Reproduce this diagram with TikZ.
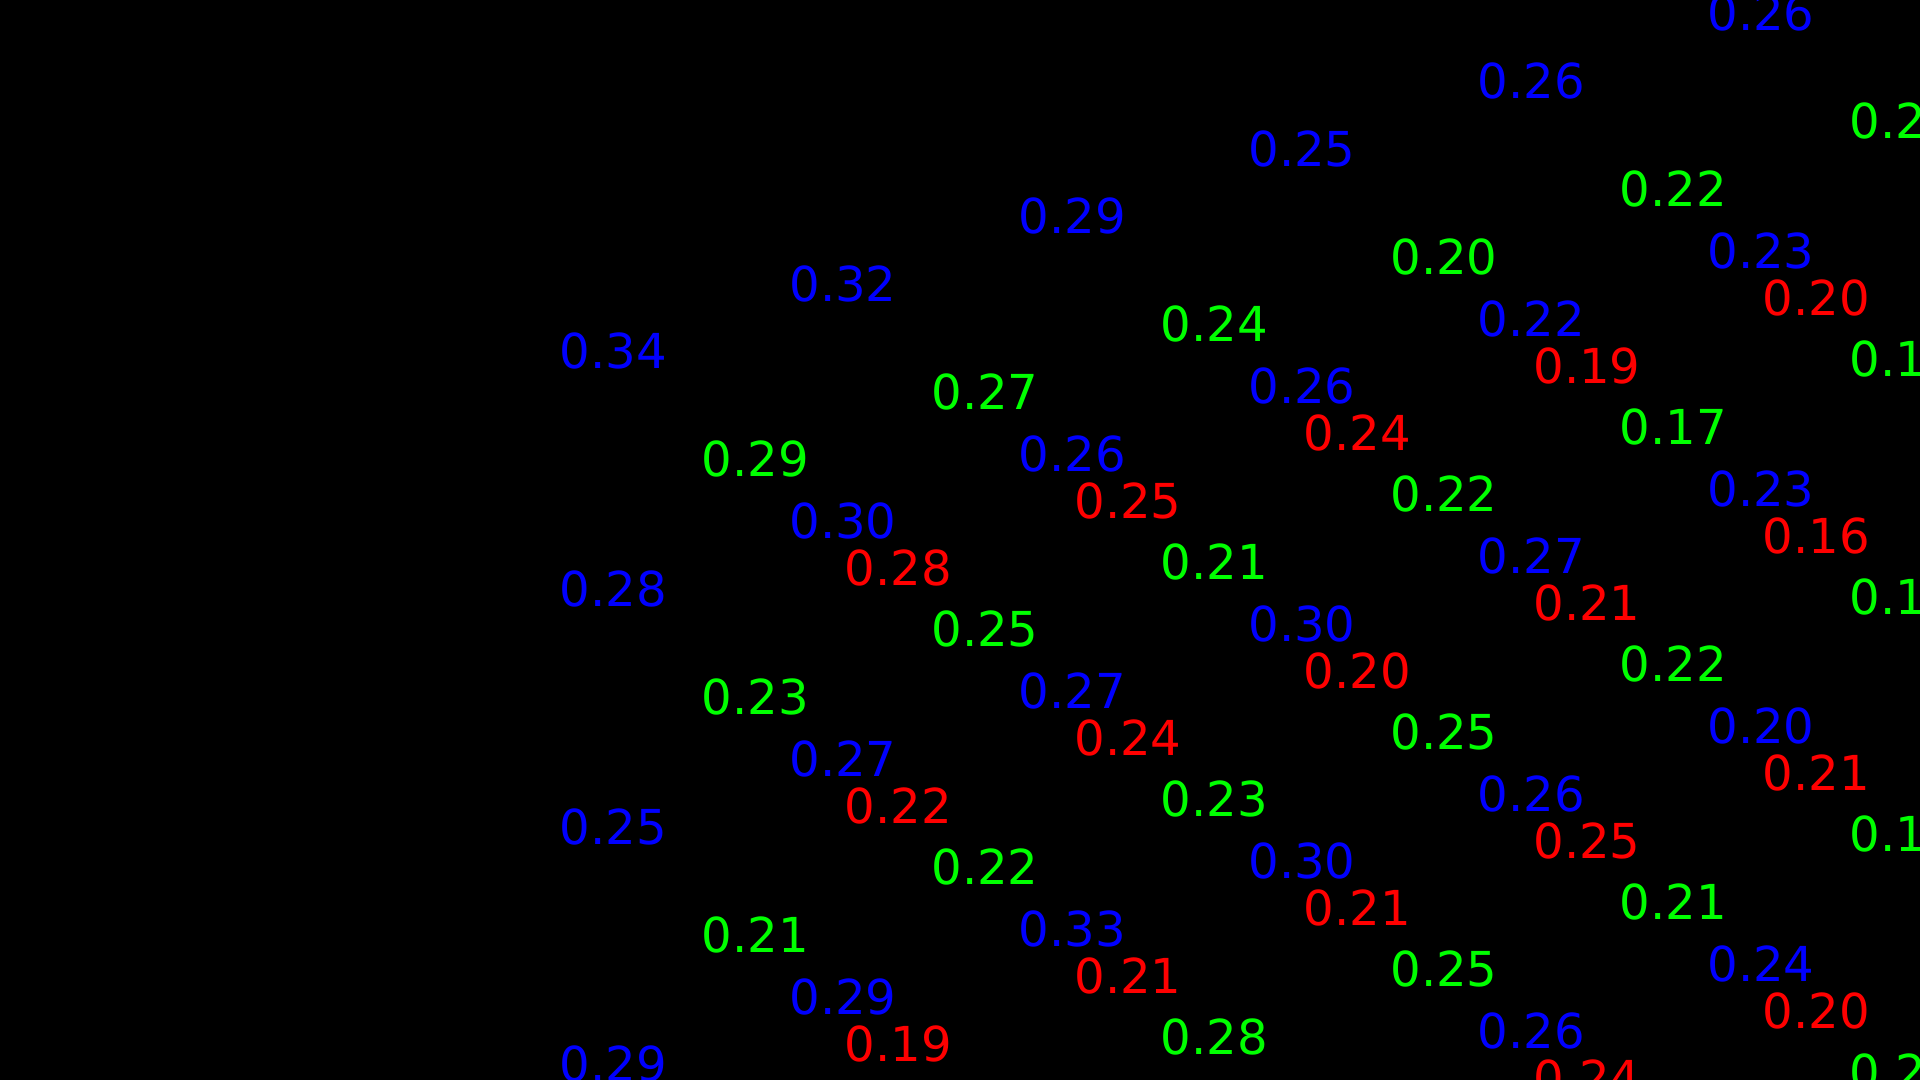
\documentclass[tikz,border=0pt]{standalone}
\usepackage{fontspec}
\setmainfont{DejaVu Sans}
\usepackage{tikz}

\begin{document}
\begin{tikzpicture}[
  val/.style={inner sep=0pt, anchor=center, font=\fontsize{13.7pt}{16pt}\selectfont},
  bval/.style={val, text=blue},
  gval/.style={val, text=green},
  rval/.style={val, text=red},
]
\useasboundingbox (0,0) rectangle (19.2,10.8);
\fill[black] (0,0) rectangle (19.2,10.8);
\clip (0,0) rectangle (19.2,10.8);

% ── BLUE SITES ──
\node[bval] (b00) at (6.135,7.286) {0.34};
\node[bval] (b01) at (6.135,4.910) {0.28};
\node[bval] (b02) at (6.135,2.534) {0.25};
\node[bval] (b03) at (6.135,0.158) {0.29};
\node[bval] (b10) at (8.430,7.962) {0.32};
\node[bval] (b11) at (8.430,5.586) {0.30};
\node[bval] (b12) at (8.430,3.210) {0.27};
\node[bval] (b13) at (8.430,0.834) {0.29};
\node[bval] (b20) at (10.725,8.638) {0.29};
\node[bval] (b21) at (10.725,6.262) {0.26};
\node[bval] (b22) at (10.725,3.886) {0.27};
\node[bval] (b23) at (10.725,1.510) {0.33};
\node[bval] (b30) at (13.020,9.314) {0.25};
\node[bval] (b31) at (13.020,6.938) {0.26};
\node[bval] (b32) at (13.020,4.562) {0.30};
\node[bval] (b33) at (13.020,2.186) {0.30};
\node[bval] (b40) at (15.315,9.990) {0.26};
\node[bval] (b41) at (15.315,7.614) {0.22};
\node[bval] (b42) at (15.315,5.238) {0.27};
\node[bval] (b43) at (15.315,2.862) {0.26};
\node[bval] (b44) at (15.315,0.486) {0.26};
\node[bval] (b50) at (17.610,10.666) {0.26};
\node[bval] (b51) at (17.610,8.290) {0.23};
\node[bval] (b52) at (17.610,5.914) {0.23};
\node[bval] (b53) at (17.610,3.538) {0.20};
\node[bval] (b54) at (17.610,1.162) {0.24};

% ── GREEN SITES ──
\node[gval] (g00) at (7.555,6.206) {0.29};
\node[gval] (g01) at (7.555,3.830) {0.23};
\node[gval] (g02) at (7.555,1.454) {0.21};
\node[gval] (g10) at (9.850,6.882) {0.27};
\node[gval] (g11) at (9.850,4.506) {0.25};
\node[gval] (g12) at (9.850,2.130) {0.22};
\node[gval] (g20) at (12.145,7.558) {0.24};
\node[gval] (g21) at (12.145,5.182) {0.21};
\node[gval] (g22) at (12.145,2.806) {0.23};
\node[gval] (g23) at (12.145,0.430) {0.28};
\node[gval] (g30) at (14.440,8.234) {0.20};
\node[gval] (g31) at (14.440,5.858) {0.22};
\node[gval] (g32) at (14.440,3.482) {0.25};
\node[gval] (g33) at (14.440,1.106) {0.25};
\node[gval] (g40) at (16.735,8.910) {0.22};
\node[gval] (g41) at (16.735,6.534) {0.17};
\node[gval] (g42) at (16.735,4.158) {0.22};
\node[gval] (g43) at (16.735,1.782) {0.21};
\node[gval] (g50) at (19.030,9.586) {0.21};
\node[gval] (g51) at (19.030,7.210) {0.15};
\node[gval] (g52) at (19.030,4.834) {0.14};
\node[gval] (g53) at (19.030,2.458) {0.17};
\node[gval] (g54) at (19.030,0.082) {0.22};

% ── RED SITES ──
\node[rval] (r00) at (8.985,5.116) {0.28};
\node[rval] (r01) at (8.985,2.740) {0.22};
\node[rval] (r02) at (8.985,0.364) {0.19};
\node[rval] (r10) at (11.280,5.792) {0.25};
\node[rval] (r11) at (11.280,3.416) {0.24};
\node[rval] (r12) at (11.280,1.040) {0.21};
\node[rval] (r20) at (13.575,6.468) {0.24};
\node[rval] (r21) at (13.575,4.092) {0.20};
\node[rval] (r22) at (13.575,1.716) {0.21};
\node[rval] (r30) at (15.870,7.144) {0.19};
\node[rval] (r31) at (15.870,4.768) {0.21};
\node[rval] (r32) at (15.870,2.392) {0.25};
\node[rval] (r33) at (15.870,0.016) {0.24};
\node[rval] (r40) at (18.165,7.820) {0.20};
\node[rval] (r41) at (18.165,5.444) {0.16};
\node[rval] (r42) at (18.165,3.068) {0.21};
\node[rval] (r43) at (18.165,0.692) {0.20};

\end{tikzpicture}
\end{document}
